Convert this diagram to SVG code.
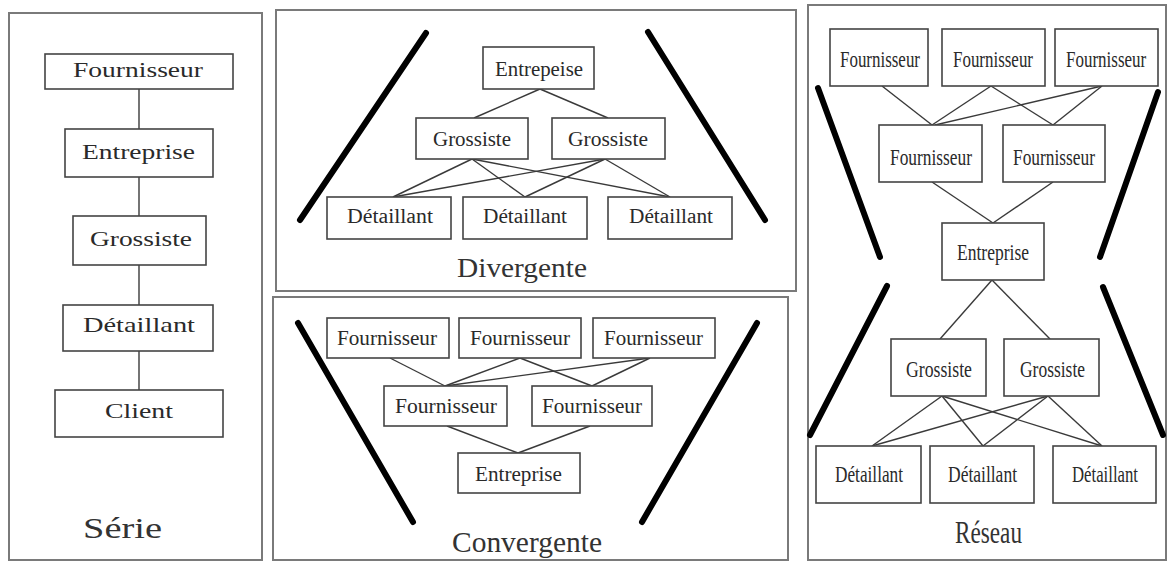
<svg xmlns="http://www.w3.org/2000/svg" width="1168" height="562" viewBox="0 0 1168 562">
  <style>
    .panel { fill: none; stroke: #7a7a7a; stroke-width: 2; }
    .box { fill: #ffffff; stroke: #444444; stroke-width: 1.6; }
    .wire { stroke: #3a3a3a; stroke-width: 1.4; fill: none; }
    .bar { stroke: #000000; stroke-width: 6; stroke-linecap: round; }
    .lbl { font-family: "Liberation Serif", "Times New Roman", serif; fill: #2a2a2a; }
    .title { font-family: "Liberation Serif", "Times New Roman", serif; fill: #333333; }
  </style>
  <rect x="0" y="0" width="1168" height="562" fill="#ffffff"/>

  <!-- panel frames -->
  <g id="frames">
    <rect class="panel" x="9" y="13" width="253" height="547"/>
    <rect class="panel" x="276" y="10" width="520" height="281"/>
    <rect class="panel" x="273" y="297" width="515" height="263"/>
    <rect class="panel" x="808" y="5" width="358" height="555"/>
  </g>

  <!-- thick funnel strokes -->
  <g id="bars">
    <line class="bar" x1="426" y1="33" x2="300" y2="220"/>
    <line class="bar" x1="648" y1="32" x2="765" y2="220"/>
    <line class="bar" x1="298" y1="323" x2="413" y2="522"/>
    <line class="bar" x1="757" y1="323" x2="642" y2="522"/>
    <line class="bar" x1="818" y1="88" x2="880" y2="257"/>
    <line class="bar" x1="1158" y1="92" x2="1100" y2="257"/>
    <line class="bar" x1="887" y1="286" x2="810" y2="435"/>
    <line class="bar" x1="1103" y1="287" x2="1163" y2="435"/>
  </g>

  <!-- connectors -->
  <g id="connectors">
    <!-- serie -->
    <line class="wire" x1="139" y1="89" x2="139" y2="390"/>
    <!-- divergente -->
    <line class="wire" x1="540" y1="89" x2="474" y2="118"/>
    <line class="wire" x1="540" y1="89" x2="608" y2="118"/>
    <line class="wire" x1="472" y1="159" x2="393" y2="197"/>
    <line class="wire" x1="472" y1="159" x2="525" y2="197"/>
    <line class="wire" x1="472" y1="159" x2="670" y2="197"/>
    <line class="wire" x1="605" y1="159" x2="393" y2="197"/>
    <line class="wire" x1="605" y1="159" x2="525" y2="197"/>
    <line class="wire" x1="605" y1="159" x2="670" y2="197"/>
    <!-- convergente -->
    <line class="wire" x1="390" y1="358" x2="445" y2="386"/>
    <line class="wire" x1="520" y1="358" x2="445" y2="386"/>
    <line class="wire" x1="520" y1="358" x2="592" y2="386"/>
    <line class="wire" x1="650" y1="358" x2="445" y2="386"/>
    <line class="wire" x1="650" y1="358" x2="592" y2="386"/>
    <line class="wire" x1="447" y1="426" x2="518" y2="453"/>
    <line class="wire" x1="590" y1="426" x2="518" y2="453"/>
    <!-- reseau -->
    <line class="wire" x1="882" y1="86" x2="932" y2="125"/>
    <line class="wire" x1="991" y1="86" x2="932" y2="125"/>
    <line class="wire" x1="991" y1="86" x2="1053" y2="125"/>
    <line class="wire" x1="1102" y1="86" x2="935" y2="125"/>
    <line class="wire" x1="1102" y1="86" x2="1053" y2="125"/>
    <line class="wire" x1="932" y1="182" x2="993" y2="223"/>
    <line class="wire" x1="1053" y1="182" x2="993" y2="223"/>
    <line class="wire" x1="992" y1="280" x2="940" y2="339"/>
    <line class="wire" x1="992" y1="280" x2="1050" y2="339"/>
    <line class="wire" x1="942" y1="396" x2="872" y2="446"/>
    <line class="wire" x1="942" y1="396" x2="983" y2="446"/>
    <line class="wire" x1="942" y1="396" x2="1102" y2="446"/>
    <line class="wire" x1="1048" y1="396" x2="872" y2="446"/>
    <line class="wire" x1="1048" y1="396" x2="983" y2="446"/>
    <line class="wire" x1="1048" y1="396" x2="1102" y2="446"/>
  </g>

  <!-- Série chain -->
  <g id="s-fournisseur"><rect class="box" x="45" y="54" width="188" height="35"/><text class="lbl" x="73" y="77" font-size="21" textLength="130" lengthAdjust="spacingAndGlyphs">Fournisseur</text></g>
  <g id="s-entreprise"><rect class="box" x="65" y="129" width="148" height="48"/><text class="lbl" x="82" y="159" font-size="22" textLength="113" lengthAdjust="spacingAndGlyphs">Entreprise</text></g>
  <g id="s-grossiste"><rect class="box" x="73" y="216" width="133" height="49"/><text class="lbl" x="90" y="246" font-size="22" textLength="102" lengthAdjust="spacingAndGlyphs">Grossiste</text></g>
  <g id="s-detaillant"><rect class="box" x="63" y="305" width="150" height="46"/><text class="lbl" x="83" y="332" font-size="22" textLength="112" lengthAdjust="spacingAndGlyphs">Détaillant</text></g>
  <g id="s-client"><rect class="box" x="55" y="390" width="168" height="47"/><text class="lbl" x="105" y="418" font-size="22" textLength="68" lengthAdjust="spacingAndGlyphs">Client</text></g>
  <text class="title" x="83" y="538" font-size="29" textLength="79" lengthAdjust="spacingAndGlyphs">Série</text>

  <!-- Divergente -->
  <g id="d-entreprise"><rect class="box" x="483" y="47" width="111" height="42"/><text class="lbl" x="495" y="76" font-size="20" textLength="88" lengthAdjust="spacingAndGlyphs">Entrepeise</text></g>
  <g id="d-grossiste-1"><rect class="box" x="416" y="118" width="112" height="41"/><text class="lbl" x="433" y="146" font-size="20" textLength="78" lengthAdjust="spacingAndGlyphs">Grossiste</text></g>
  <g id="d-grossiste-2"><rect class="box" x="552" y="118" width="113" height="41"/><text class="lbl" x="568" y="146" font-size="20" textLength="80" lengthAdjust="spacingAndGlyphs">Grossiste</text></g>
  <g id="d-detaillant-1"><rect class="box" x="327" y="197" width="124" height="42"/><text class="lbl" x="347" y="223" font-size="20" textLength="86" lengthAdjust="spacingAndGlyphs">Détaillant</text></g>
  <g id="d-detaillant-2"><rect class="box" x="463" y="197" width="124" height="42"/><text class="lbl" x="483" y="223" font-size="20" textLength="84" lengthAdjust="spacingAndGlyphs">Détaillant</text></g>
  <g id="d-detaillant-3"><rect class="box" x="608" y="197" width="124" height="42"/><text class="lbl" x="629" y="223" font-size="20" textLength="84" lengthAdjust="spacingAndGlyphs">Détaillant</text></g>
  <text class="title" x="457" y="277" font-size="28" textLength="130" lengthAdjust="spacingAndGlyphs">Divergente</text>

  <!-- Convergente -->
  <g id="c-fournisseur-1"><rect class="box" x="327" y="318" width="122" height="40"/><text class="lbl" x="337" y="345" font-size="20" textLength="100" lengthAdjust="spacingAndGlyphs">Fournisseur</text></g>
  <g id="c-fournisseur-2"><rect class="box" x="459" y="318" width="122" height="40"/><text class="lbl" x="470" y="345" font-size="20" textLength="100" lengthAdjust="spacingAndGlyphs">Fournisseur</text></g>
  <g id="c-fournisseur-3"><rect class="box" x="593" y="318" width="122" height="40"/><text class="lbl" x="604" y="345" font-size="20" textLength="99" lengthAdjust="spacingAndGlyphs">Fournisseur</text></g>
  <g id="c-fournisseur-4"><rect class="box" x="384" y="386" width="123" height="40"/><text class="lbl" x="395" y="413" font-size="20" textLength="102" lengthAdjust="spacingAndGlyphs">Fournisseur</text></g>
  <g id="c-fournisseur-5"><rect class="box" x="532" y="386" width="120" height="40"/><text class="lbl" x="542" y="413" font-size="20" textLength="100" lengthAdjust="spacingAndGlyphs">Fournisseur</text></g>
  <g id="c-entreprise"><rect class="box" x="458" y="453" width="122" height="40"/><text class="lbl" x="475" y="481" font-size="20" textLength="87" lengthAdjust="spacingAndGlyphs">Entreprise</text></g>
  <text class="title" x="452" y="552" font-size="29" textLength="150" lengthAdjust="spacingAndGlyphs">Convergente</text>

  <!-- Réseau -->
  <g id="r-fournisseur-1"><rect class="box" x="830" y="29" width="98" height="57"/><text class="lbl" x="840" y="67" font-size="24" textLength="80" lengthAdjust="spacingAndGlyphs">Fournisseur</text></g>
  <g id="r-fournisseur-2"><rect class="box" x="942" y="29" width="103" height="57"/><text class="lbl" x="953" y="67" font-size="24" textLength="80" lengthAdjust="spacingAndGlyphs">Fournisseur</text></g>
  <g id="r-fournisseur-3"><rect class="box" x="1055" y="29" width="103" height="57"/><text class="lbl" transform="translate(1066 67) scale(0.708 1)" x="0" y="0" font-size="24">Fournisseur</text></g>
  <g id="r-fournisseur-4"><rect class="box" x="879" y="125" width="103" height="57"/><text class="lbl" x="890" y="165" font-size="24" textLength="82" lengthAdjust="spacingAndGlyphs">Fournisseur</text></g>
  <g id="r-fournisseur-5"><rect class="box" x="1003" y="125" width="102" height="57"/><text class="lbl" x="1013" y="165" font-size="24" textLength="82" lengthAdjust="spacingAndGlyphs">Fournisseur</text></g>
  <g id="r-entreprise"><rect class="box" x="942" y="223" width="102" height="57"/><text class="lbl" x="957" y="260" font-size="24" textLength="72" lengthAdjust="spacingAndGlyphs">Entreprise</text></g>
  <g id="r-grossiste-1"><rect class="box" x="891" y="339" width="95" height="57"/><text class="lbl" x="906" y="377" font-size="24" textLength="66" lengthAdjust="spacingAndGlyphs">Grossiste</text></g>
  <g id="r-grossiste-2"><rect class="box" x="1004" y="339" width="95" height="57"/><text class="lbl" x="1020" y="377" font-size="24" textLength="65" lengthAdjust="spacingAndGlyphs">Grossiste</text></g>
  <g id="r-detaillant-1"><rect class="box" x="816" y="446" width="105" height="57"/><text class="lbl" x="835" y="482" font-size="24" textLength="68" lengthAdjust="spacingAndGlyphs">Détaillant</text></g>
  <g id="r-detaillant-2"><rect class="box" x="930" y="446" width="104" height="57"/><text class="lbl" x="948" y="482" font-size="24" textLength="69" lengthAdjust="spacingAndGlyphs">Détaillant</text></g>
  <g id="r-detaillant-3"><rect class="box" x="1053" y="446" width="103" height="57"/><text class="lbl" x="1072" y="482" font-size="24" textLength="66" lengthAdjust="spacingAndGlyphs">Détaillant</text></g>
  <text class="title" x="955" y="543" font-size="32" textLength="67" lengthAdjust="spacingAndGlyphs">Réseau</text>
</svg>
